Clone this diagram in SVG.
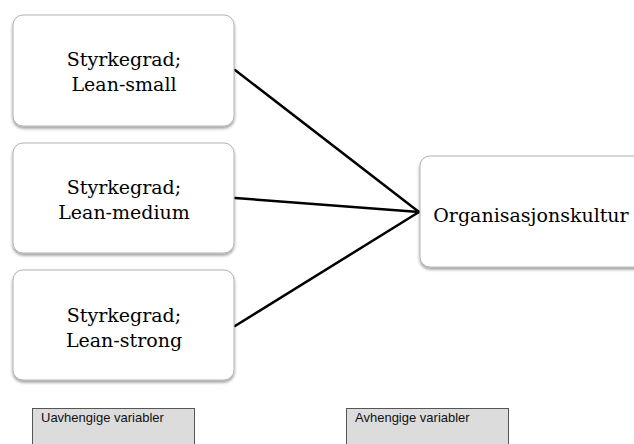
<svg xmlns="http://www.w3.org/2000/svg" width="634" height="444" viewBox="0 0 634 444">
<style>
.node rect{fill:#fff;stroke:#b4b4b4;stroke-width:1;filter:url(#sh)}
.node text{font-family:"DejaVu Serif",serif;font-size:19px;fill:#000;text-anchor:middle}
.conn line{stroke:#000;stroke-width:2.5;stroke-linecap:round}
.lbl rect{fill:#dcdcdc;stroke:#555;stroke-width:1}
.lbl text{font-family:"Liberation Sans",Arial,sans-serif;font-size:13px;fill:#111}
</style>
<defs>
<filter id="sh" x="-10%" y="-10%" width="120%" height="130%">
<feDropShadow dx="0" dy="2" stdDeviation="1.5" flood-color="#000" flood-opacity="0.4"/>
</filter>
</defs>
<rect width="634" height="444" fill="#fff"/>
<g class="conn">
<line x1="235" y1="70" x2="419" y2="212"/>
<line x1="235" y1="198" x2="419" y2="212"/>
<line x1="235" y1="326" x2="419" y2="212"/>
</g>
<g id="n1" class="node">
<rect x="13" y="15" width="221" height="111" rx="10"/>
<text x="124" y="66">Styrkegrad;</text>
<text x="124" y="91">Lean-small</text>
</g>
<g id="n2" class="node">
<rect x="13" y="143" width="221" height="110" rx="10"/>
<text x="124" y="194">Styrkegrad;</text>
<text x="124" y="219">Lean-medium</text>
</g>
<g id="n3" class="node">
<rect x="13" y="270" width="221" height="110" rx="10"/>
<text x="124" y="322">Styrkegrad;</text>
<text x="124" y="347">Lean-strong</text>
</g>
<g id="n4" class="node">
<rect x="420" y="156" width="240" height="111" rx="10"/>
<text x="531" y="222">Organisasjonskultur</text>
</g>
<g id="l1" class="lbl">
<rect x="32.5" y="408.5" width="162" height="40"/>
<text x="41" y="421.5">Uavhengige variabler</text>
</g>
<g id="l2" class="lbl">
<rect x="346.5" y="408.5" width="162" height="40"/>
<text x="355" y="421.5">Avhengige variabler</text>
</g>
</svg>
